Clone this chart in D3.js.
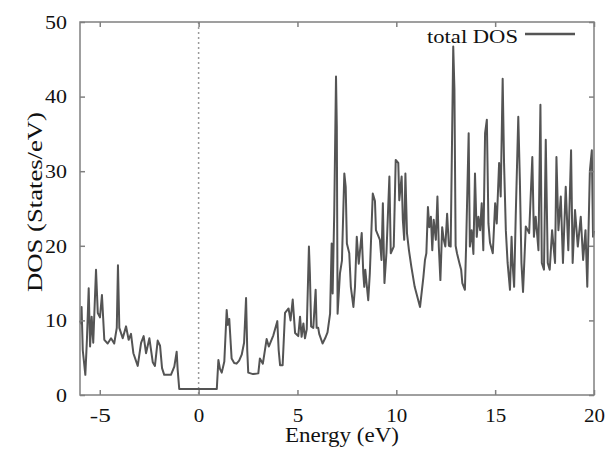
<!DOCTYPE html>
<html><head><meta charset="utf-8">
<script src="https://cdn.jsdelivr.net/npm/d3@7"></script>
<style>
html,body{margin:0;padding:0;background:#fff;}
text{font-family:"Liberation Serif","Times New Roman",serif;fill:#111;}
</style></head>
<body><svg id="c" width="605" height="449"></svg>
<script>
const energy = [-6.0,-5.95,-5.92,-5.86,-5.73,-5.65,-5.56,-5.49,-5.41,-5.33,-5.19,-5.10,-4.99,-4.89,-4.77,-4.60,-4.43,-4.27,-4.14,-4.08,-4.01,-3.84,-3.67,-3.54,-3.42,-3.30,-3.08,-2.91,-2.78,-2.66,-2.49,-2.32,-2.21,-2.07,-1.95,-1.85,-1.74,-1.40,-1.23,-1.11,-1.06,-0.98,0.0,0.92,
1.0,1.08,1.17,1.3,1.42,1.48,1.55,1.67,1.8,1.92,2.05,2.18,2.3,2.40,2.46,2.51,2.75,3.02,3.1,3.25,3.44,3.55,3.78,3.98,4.05,4.12,4.25,4.37,4.55,4.65,4.76,4.88,5.04,
5.13,5.21,5.30,5.38,5.47,5.58,5.63,5.69,5.80,5.92,5.97,6.05,6.10,6.27,6.40,6.52,6.65,6.73,6.78,6.86,6.95,6.99,7.03,7.15,7.25,7.37,7.44,7.50,7.62,7.70,7.83,7.91,8.00,8.10,8.25,8.33,8.38,8.43,8.58,8.66,8.81,8.92,8.97,9.17,9.25,9.32,9.40,9.50,9.65,9.72,9.87,9.97,10.10,10.15,10.27,10.33,10.40,10.46,10.54,10.64,10.76,10.93,11.20,11.37,11.45,11.52,11.60,11.67,11.75,11.82,11.89,12.00,12.08,12.15,12.23,12.32,12.40,12.48,12.57,12.66,12.75,12.88,12.94,13.00,13.07,13.19,13.28,13.34,13.47,13.53,13.66,13.72,13.81,13.90,13.98,14.07,14.15,14.24,14.32,14.40,14.49,14.58,14.66,14.74,14.88,15.00,15.08,15.20,15.28,15.38,15.45,15.54,15.63,15.75,15.83,15.88,15.96,16.04,16.17,16.25,16.33,16.41,16.55,16.72,16.88,16.96,17.05,17.19,17.29,17.36,17.47,17.56,17.66,17.76,17.88,18.03,18.10,18.20,18.32,18.43,18.57,18.70,18.84,18.92,19.04,19.18,19.33,19.45,19.57,19.66,19.79,19.89,19.95,20.0];
const dos = [10.0,9.6,11.8,6.0,2.7,7.4,14.3,6.5,10.5,7.0,16.8,11.0,10.4,13.4,7.4,6.9,7.6,6.9,9.0,17.4,9.0,7.6,9.2,7.4,8.2,5.6,3.9,7.0,7.9,5.6,7.6,4.4,3.9,7.3,6.6,3.6,2.7,2.7,3.8,5.8,3.4,0.8,0.8,0.8,
4.7,3.5,3.0,4.5,11.4,9.4,10.2,4.9,4.3,4.2,4.6,5.4,7.0,13.0,6.0,3.0,2.8,2.9,4.9,4.2,7.5,6.5,8.0,9.9,6.0,4.0,4.0,11.0,11.6,10.0,12.8,8.3,7.9,
10.5,7.8,9.6,7.6,8.8,19.9,16.2,9.2,9.0,14.1,9.0,9.0,8.2,6.9,7.6,8.4,10.9,20.3,13.6,24.4,42.7,36.0,10.9,16.3,18.0,29.7,27.9,20.3,19.0,14.5,11.8,14.5,21.2,17.6,21.7,16.3,14.5,16.8,12.7,16.3,27.0,26.0,22.1,20.8,18.1,25.7,15.0,19.0,29.3,19.0,19.9,31.5,31.1,26.1,29.3,23.5,20.8,29.7,21.7,19.4,17.2,14.5,11.8,15.8,18.1,19.0,25.2,22.5,23.9,19.4,23.5,20.8,26.6,19.9,15.4,22.5,20.8,19.9,24.3,20.0,19.9,46.7,41.0,20.0,19.0,17.7,16.8,15.0,14.1,19.9,35.1,19.9,22.1,18.9,29.7,21.2,23.9,22.1,25.7,19.4,35.1,36.9,23.0,20.4,19.0,25.7,23.0,31.1,26.6,42.4,31.1,22.1,17.7,14.1,21.2,17.7,14.5,23.9,37.3,28.8,17.7,13.8,22.6,21.7,31.9,21.2,23.9,19.4,38.9,17.7,16.8,34.2,17.7,16.8,22.1,17.7,31.9,22.1,26.6,17.7,27.9,19.4,32.8,17.7,24.8,19.9,23.9,18.1,22.1,14.5,30.0,32.8,21.2,22.0];
const xTicks = [-5,0,5,10,15,20];
const yTicks = [0,10,20,30,40,50];
const seriesName = "total DOS";
const xTitle = "Energy (eV)";
const yTitle = "DOS (States/eV)";

const svg = d3.select("#c");
const L=80, R=594, T=22, B=395;
const x = d3.scaleLinear().domain([-6,20]).range([L,R]);
const y = d3.scaleLinear().domain([0,50]).range([B,T]);
const frameColor="#808080";

// dotted zero line
svg.append("line").attr("x1",x(0)).attr("x2",x(0)).attr("y1",T).attr("y2",B)
  .attr("stroke","#9a9a9a").attr("stroke-width",1.5).attr("stroke-dasharray","2,3");

// data line
const pts = energy.map((e,i)=>[e,dos[i]]);
svg.append("path").datum(pts)
  .attr("d", d3.line().x(d=>x(d[0])).y(d=>y(d[1])))
  .attr("fill","none").attr("stroke","#545454").attr("stroke-width",2).attr("stroke-linejoin","round");

// axes with inward ticks
const axB = svg.append("g").attr("transform",`translate(0,${B})`)
  .call(d3.axisBottom(x).tickValues(xTicks).tickSizeInner(-5).tickSizeOuter(0).tickPadding(13).tickFormat(d3.format("d")));
const axT = svg.append("g").attr("transform",`translate(0,${T})`)
  .call(d3.axisTop(x).tickValues(xTicks).tickSizeInner(-5).tickSizeOuter(0).tickFormat(""));
const axL = svg.append("g").attr("transform",`translate(${L},0)`)
  .call(d3.axisLeft(y).tickValues(yTicks).tickSizeInner(-5).tickSizeOuter(0).tickPadding(13));
const axR = svg.append("g").attr("transform",`translate(${R},0)`)
  .call(d3.axisRight(y).tickValues(yTicks).tickSizeInner(-5).tickSizeOuter(0).tickFormat(""));
[axB,axT,axL,axR].forEach(a=>{
  a.select(".domain").remove();
  a.selectAll(".tick line").attr("stroke",frameColor).attr("stroke-width",1.5);
  a.selectAll(".tick text").attr("font-size",19.5).attr("fill","#111").attr("font-family","Liberation Serif, serif");
});
axB.selectAll(".tick text").text(d=> d<0 ? "-"+Math.abs(d) : d);
// slightly wider glyphs like the reference
axL.selectAll(".tick text").each(function(){ const t=d3.select(this); t.attr("textLength", t.text().length*11).attr("lengthAdjust","spacingAndGlyphs"); });
axB.selectAll(".tick text").each(function(){ const t=d3.select(this); t.attr("textLength", t.text().length*10.5).attr("lengthAdjust","spacingAndGlyphs"); });

// frame
svg.append("rect").attr("x",L).attr("y",T).attr("width",R-L).attr("height",B-T)
  .attr("fill","none").attr("stroke",frameColor).attr("stroke-width",1.5);

// titles
svg.append("text").attr("x",342).attr("y",442).attr("text-anchor","middle")
  .attr("font-size",20).attr("textLength",114).attr("lengthAdjust","spacingAndGlyphs").text(xTitle);
svg.append("text").attr("transform",`translate(42,202) rotate(-90)`)
  .attr("text-anchor","middle").attr("font-size",20).attr("textLength",180).attr("lengthAdjust","spacingAndGlyphs").text(yTitle);

// legend
svg.append("text").attr("x",427).attr("y",43).attr("font-size",19.5)
  .attr("textLength",91).attr("lengthAdjust","spacingAndGlyphs").text(seriesName);
svg.append("line").attr("x1",525).attr("x2",575).attr("y1",34).attr("y2",34)
  .attr("stroke","#555").attr("stroke-width",2.5);
</script></body></html>
